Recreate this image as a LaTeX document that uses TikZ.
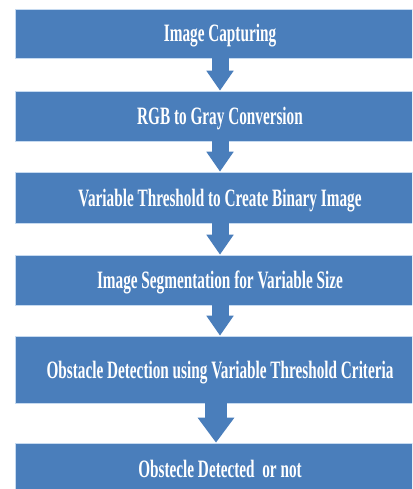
\documentclass[tikz,border=0pt]{standalone}
\usepackage{graphicx}
\usepackage{fontspec}
\setmainfont{Liberation Serif}
\usetikzlibrary{arrows.meta}
\definecolor{stage}{HTML}{4A7EBB}
\definecolor{stageEdge}{HTML}{C6DAF0}
\newcommand{\narrow}[1]{\scalebox{0.61}[1]{#1}}
\tikzset{stage/.style={text=white,draw=stageEdge,fill=stage,line width=0.6pt,rectangle,minimum width=410pt,inner sep=0pt,font=\fontsize{25}{28}\selectfont\bfseries,text height=17pt,text depth=0pt}}
\tikzset{flow/.style={draw=stage,line width=17pt,-{Triangle[width=26pt,length=20pt]}}}

\begin{document}
\begin{tikzpicture}[x=1pt,y=-1pt]
            \clip (0,0) rectangle (412,489);
            \fill[white] (0,0) rectangle (412,489);
            \node[stage,minimum height=49pt] (capture) at (220,33.5) {\narrow{Image Capturing}};
            \node[stage,minimum height=50pt] (gray) at (220,116) {\narrow{RGB to Gray Conversion}};
            \node[stage,minimum height=51pt] (binary) at (220,197.5) {\narrow{Variable Threshold to Create Binary Image}};
            \node[stage,minimum height=50pt] (segment) at (220,280) {\narrow{Image Segmentation for Variable Size}};
            \node[stage,minimum height=67pt] (detect) at (220,369.5) {\narrow{Obstacle Detection using Variable Threshold Criteria}};
            \node[stage,minimum height=52pt] (result) at (220,469) {\narrow{Obstecle Detected\ \ or not}};
            \draw[flow] (capture) -- (gray);
            \draw[flow] (gray) -- (binary);
            \draw[flow] (binary) -- (segment);
            \draw[flow] (segment) -- (detect);
            \draw[flow,line width=22pt,-{Triangle[width=35pt,length=25pt]}] ([xshift=-4pt]detect.south) -- ([xshift=-4pt]result.north);
            \end{tikzpicture}
\end{document}
